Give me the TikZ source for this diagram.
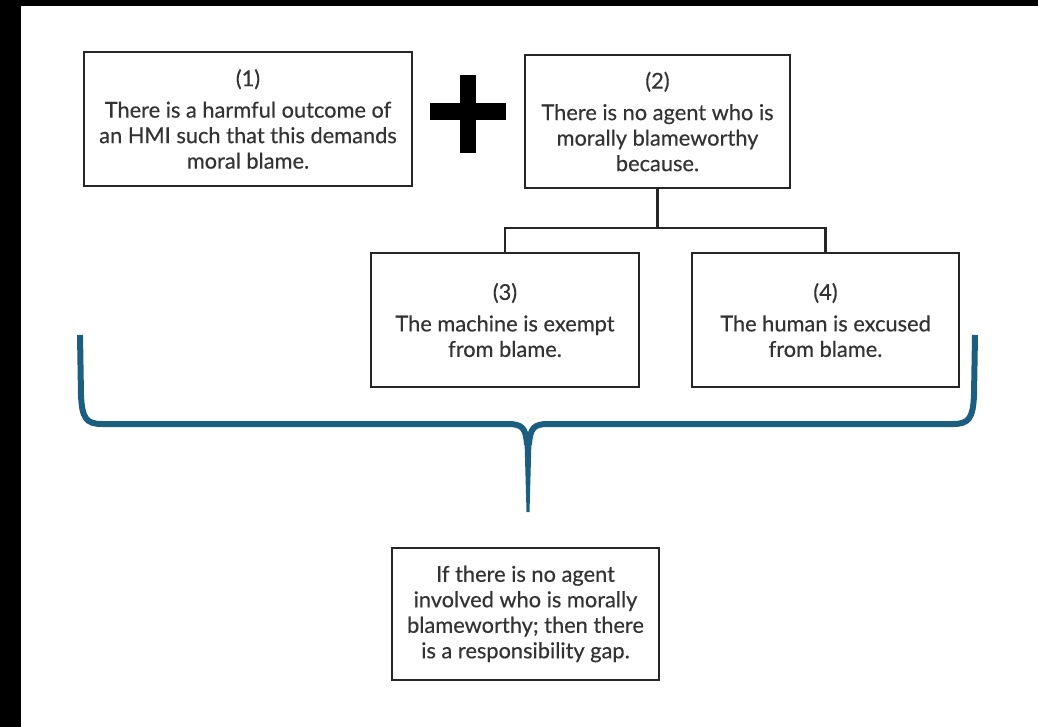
\documentclass[tikz,border=0pt]{standalone}
\usepackage{fontspec}
\setmainfont{Lato}
\newfontfamily\boxfont[FakeBold=0.4]{Lato}
\usetikzlibrary{calc}
\begin{document}
\begin{tikzpicture}[x=1pt,y=-1pt,
  box/.style={draw=black!85,line width=1.8pt,minimum width=#1,inner sep=0pt,align=center,
    text=black!80,font=\boxfont\fontsize{21.8}{25.5}\selectfont},
  conn/.style={draw=black!85,line width=2.4pt},
  bracecol/.style={draw=braceblue,line width=6pt}]
\definecolor{braceblue}{HTML}{1B5E80}
\useasboundingbox (0,0) rectangle (1038,727);
\fill[white] (0,0) rectangle (1038,727);
\fill[black] (0,0) rectangle (1038,6);
\fill[black] (0,0) rectangle (21,727);
% boxes
\node[box=328pt,minimum height=134pt] (b1) at (248,119) {(1)\\[6pt]There is a harmful outcome of\\an HMI such that this demands\\moral blame.};
\node[box=265pt,minimum height=133pt] (b2) at (657.5,121.5) {(2)\\[6pt]There is no agent who is\\morally blameworthy\\because.};
\node[box=268pt,minimum height=134pt] (b3) at (505,320) {(3)\\[6pt]The machine is exempt\\from blame.};
\node[box=267pt,minimum height=134pt] (b4) at (825.5,320) {(4)\\[6pt]The human is excused\\from blame.};
\node[box=267pt,minimum height=132pt] (b5) at (525.5,614) {If there is no agent\\involved who is morally\\blameworthy; then there\\is a responsibility gap.};
% plus sign
\node[fill=black,minimum width=16pt,minimum height=78pt,inner sep=0pt] (pv) at (468,114) {};
\node[fill=black,minimum width=76pt,minimum height=17pt,inner sep=0pt] (ph) at (468,112) {};
% tree connector
\coordinate (j) at ($(b2.south)+(0,39)$);
\draw[conn] (b2.south) -- (j);
\draw[conn] (b3.north) |- (j) -| (b4.north);
% brace
\coordinate (bl) at (80,335);
\coordinate (br) at (975,335);
\coordinate (bt) at (528,512);
\draw[bracecol] (bl) -- (81,395) .. controls (82,418) and (86,424) .. (102,424) -- (508,424)
  .. controls (522,424) and (526,428) .. (527,445);
\draw[bracecol] (br) -- (974,395) .. controls (973,418) and (969,424) .. (953,424) -- (548,424)
  .. controls (534,424) and (530,428) .. (529,445);
\fill[braceblue] (524.5,440) -- (531.5,440) -- (529.5,512) -- (526.5,512) -- cycle;
\end{tikzpicture}
\end{document}
